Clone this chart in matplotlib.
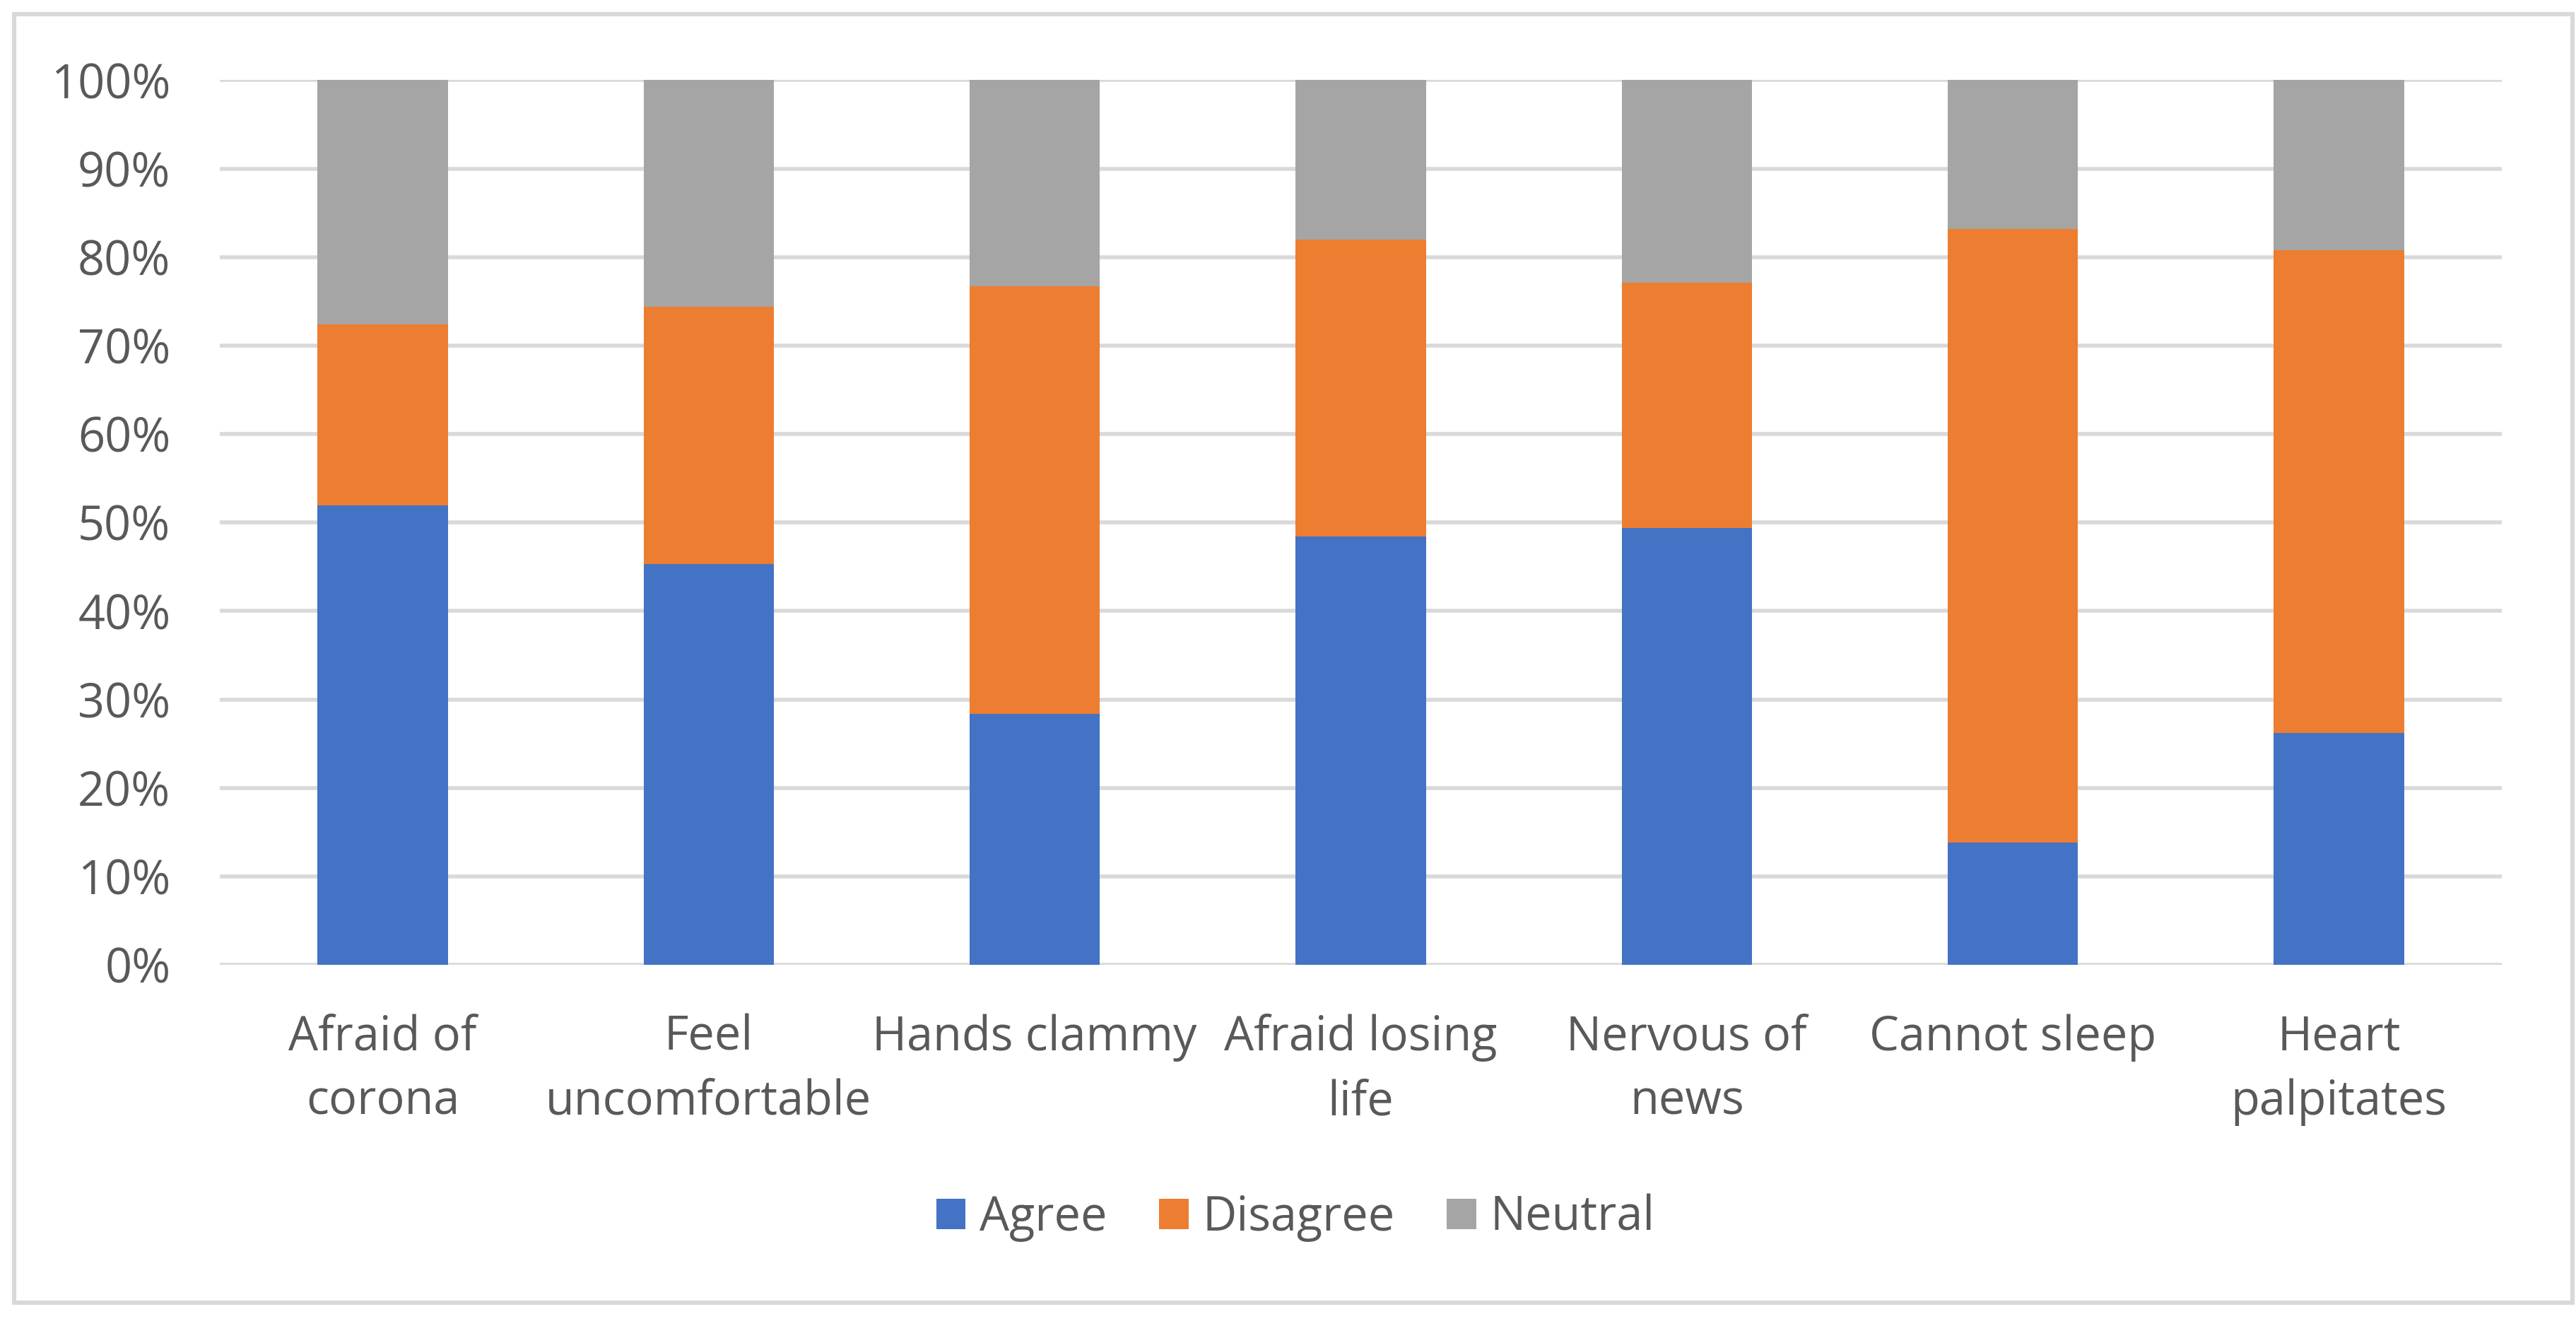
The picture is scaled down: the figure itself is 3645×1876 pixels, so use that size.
import matplotlib
matplotlib.use('Agg')
import matplotlib.pyplot as plt
from matplotlib.patches import Rectangle

# survey items (x axis) and share of answers per item
categories = ['Afraid of\ncorona', 'Feel\nuncomfortable', 'Hands clammy', 'Afraid losing\nlife',
              'Nervous of\nnews', 'Cannot sleep', 'Heart\npalpitates']
agree = [51.9, 45.3, 28.4, 48.4, 49.4, 13.8, 26.2]
disagree = [20.5, 29.1, 48.3, 33.6, 27.7, 69.4, 54.6]
neutral = [100 - a - d for a, d in zip(agree, disagree)]
series_names = ['Agree', 'Disagree', 'Neutral']
yticks = list(range(0, 101, 10))

colors = ['#4472C4', '#ED7D31', '#A5A5A5']
text_color = '#595959'
grid_color = '#D9D9D9'

plt.rcParams['font.family'] = ['Open Sans', 'DejaVu Sans']

fig = plt.figure(figsize=(18.225, 9.38), dpi=200)
ax = fig.add_axes([0.0853, 0.2724, 0.8859, 0.6671])

x = list(range(len(categories)))
bottom2 = agree
bottom3 = [a + d for a, d in zip(agree, disagree)]
ax.bar(x, agree, width=0.4, color=colors[0], label=series_names[0], zorder=3)
ax.bar(x, disagree, width=0.4, bottom=bottom2, color=colors[1], label=series_names[1], zorder=3)
ax.bar(x, neutral, width=0.4, bottom=bottom3, color=colors[2], label=series_names[2], zorder=3)

for t in yticks:
    ax.axhline(t, color=grid_color, lw=2.0, zorder=1)

ax.set_xlim(-0.5, len(categories) - 0.5)
ax.set_ylim(0, 100)
ax.set_yticks(yticks)
ax.set_yticklabels([f'{t}%' for t in yticks])
ax.set_xticks(x)
ax.set_xticklabels(categories, linespacing=1.45)
ax.tick_params(axis='y', length=0, pad=25, labelsize=24, labelcolor=text_color)
ax.tick_params(axis='x', length=0, pad=25, labelsize=24, labelcolor=text_color)
for s in ax.spines.values():
    s.set_visible(False)

leg = fig.legend(loc='center', bbox_to_anchor=(0.503, 0.0815), ncol=3, frameon=False,
                 fontsize=24, handlelength=0.62, handleheight=0.62,
                 handletextpad=0.3, columnspacing=1.1)
for t in leg.get_texts():
    t.set_color(text_color)

# chart border
fig.patches.append(Rectangle((20 / 3645, 1 - 1843 / 1876), 3620 / 3645, 1823 / 1876,
                             transform=fig.transFigure, fill=False,
                             edgecolor=grid_color, lw=2.2))

fig.savefig('out.png', dpi=200, facecolor='white')
